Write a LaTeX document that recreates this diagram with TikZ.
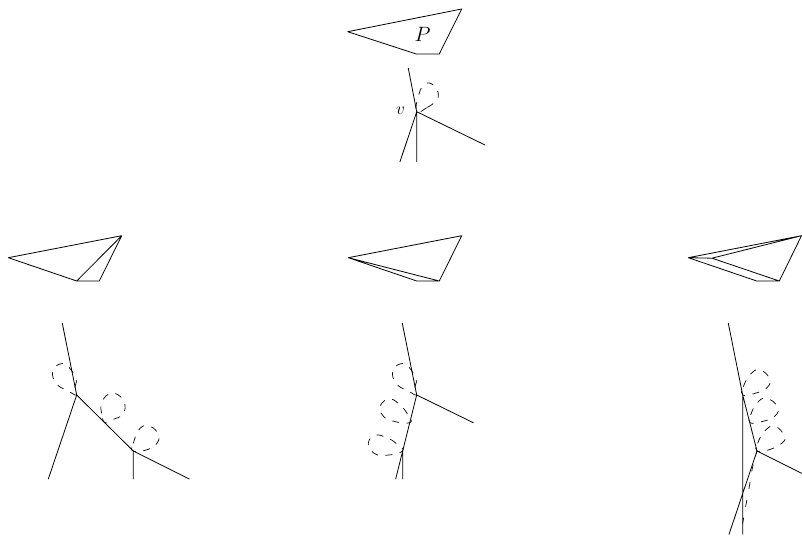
\documentclass[tikz,border=0pt]{standalone}
\tikzset{
  edgeline/.style={line width=0.8pt,line cap=round,line join=round,black},
  loopline/.style={line width=0.7pt,black,dash pattern=on 7pt off 7.5pt},
  taillline/.style={line width=0.7pt,black,dash pattern=on 7pt off 11pt,dash phase=4pt},
  lblP/.style={inner sep=0pt,font=\fontsize{20}{20}\selectfont},
  lblv/.style={inner sep=0pt,font=\fontsize{17}{17}\selectfont}
}
\newcommand{\zloop}[3]{\draw[loopline,shift={(#1,#2)},scale=1/3] plot[smooth cycle,tension=0.8] coordinates {#3};}
\begin{document}
\begin{tikzpicture}[x=1pt,y=-1pt]
\useasboundingbox (0,0) rectangle (802,535);
% top polygon
\coordinate (pa) at (347.7,31.7); \coordinate (pb) at (461.7,9);
\coordinate (pc) at (439.3,54); \coordinate (pd) at (416.3,54);
\draw[edgeline] (pa)--(pb)--(pc)--(pd)--cycle;
\node[lblP] (labP) at (422.5,34) {$P$};
% top star
\coordinate (v) at (416.7,111.7);
\coordinate (v1) at (408.3,68.3); \coordinate (v2) at (485,145);
\coordinate (v3) at (400,161.7); \coordinate (v4) at (416.7,161.7);
\draw[edgeline] (v)--(v1) (v)--(v2) (v)--(v3) (v)--(v4);
\node[lblv] (labv) at (400.5,111) {$v$};
\zloop{340}{0}{(230,335)(262,322)(287,303)(295,280)(280,255)(255,252)(236,285)}
% left triangulation
\coordinate (a1) at (8.3,257.7); \coordinate (a2) at (121.7,235.7);
\coordinate (a3) at (99.3,281); \coordinate (a4) at (76.7,281);
\draw[edgeline] (a1)--(a2)--(a3)--(a4)--cycle (a4)--(a2);
% middle triangulation
\coordinate (b1) at (348.3,257.7); \coordinate (b2) at (461.7,235.7);
\coordinate (b3) at (439.3,281); \coordinate (b4) at (416.7,281);
\draw[edgeline] (b1)--(b2)--(b3)--(b4)--cycle (b1)--(b3);
% right triangulation
\coordinate (c1) at (688.3,257.7); \coordinate (c2) at (801.5,235.7);
\coordinate (c3) at (779.3,281); \coordinate (c4) at (756.7,281);
\coordinate (c5) at (712,258.2);
\draw[edgeline] (c1)--(c2)--(c3)--(c4)--cycle (c1)--(c5)--(c3) (c5)--(c2);
% left star
\coordinate (d0) at (62.3,323.3); \coordinate (d1) at (76.7,395);
\coordinate (d2) at (48.3,479); \coordinate (d3) at (133.3,451);
\coordinate (d4) at (189.3,479); \coordinate (d5) at (133.3,479);
\draw[edgeline] (d0)--(d1)--(d3)--(d4) (d1)--(d2) (d3)--(d5);
\zloop{0}{310}{(230,255)(225,230)(228,208)(205,170)(180,162)(158,185)(170,222)(205,243)}
\zloop{0}{310}{(315,338)(305,310)(305,280)(325,253)(355,255)(375,285)(365,315)(340,328)}
\zloop{0}{310}{(400,423)(400,400)(420,355)(450,349)(474,372)(472,398)(445,418)}
% middle star
\coordinate (e0) at (402.3,323.3); \coordinate (e1) at (416.7,395);
\coordinate (e2) at (473.3,422.7); \coordinate (e3) at (402.7,451);
\coordinate (e4) at (395.7,479); \coordinate (e5) at (402.7,479);
\draw[edgeline] (e0)--(e1)--(e2) (e1)--(e3)--(e4) (e3)--(e5);
\zloop{350}{310}{(200,255)(195,230)(198,208)(175,170)(150,162)(128,185)(140,222)(175,243)}
\zloop{350}{310}{(180,338)(172,312)(150,285)(120,267)(92,285)(95,312)(125,332)}
\zloop{350}{310}{(158,423)(138,400)(110,383)(75,376)(55,400)(70,428)(105,436)}
% right star
\coordinate (f0) at (728.3,323.3); \coordinate (f1) at (742.7,395);
\coordinate (f2) at (757,451); \coordinate (f3) at (801.7,473.3);
\coordinate (f4) at (729,534.3); \coordinate (f5) at (742.7,534.3);
\draw[edgeline] (f0)--(f1)--(f2)--(f3) (f2)--(f4) (f1)--(f5);
\zloop{680}{310}{(188,255)(190,230)(212,192)(240,180)(268,205)(262,232)(225,250)}
\zloop{680}{310}{(210,338)(212,315)(232,278)(260,265)(292,290)(285,318)(245,335)}
\zloop{680}{310}{(231,423)(233,400)(255,362)(285,349)(313,378)(305,400)(265,420)}
\draw[taillline,shift={(680,310)},scale=1/3] plot[smooth,tension=0.6] coordinates {(231,423)(218,470)(207,535)(196,595)(188,640)};
\end{tikzpicture}
\end{document}
